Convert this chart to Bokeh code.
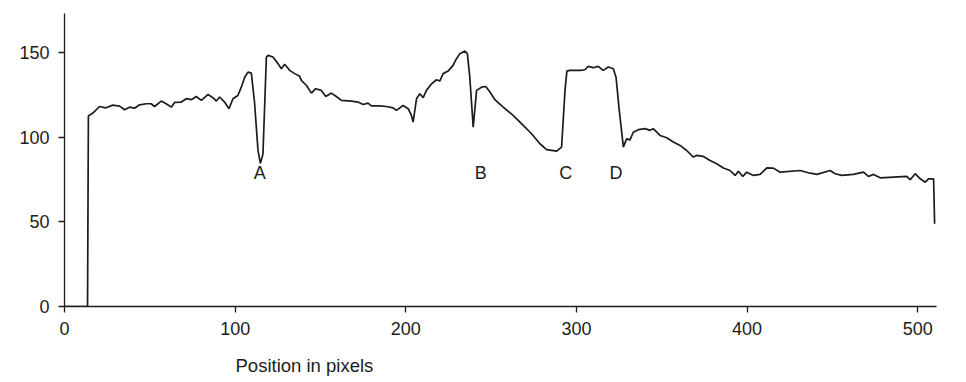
from bokeh.plotting import figure
from bokeh.models import ColumnDataSource, FixedTicker, Title, Range1d
from bokeh.core.properties import value
from bokeh.embed import file_html
from bokeh.resources import INLINE

position = [0, 13.5, 14.0, 16.6, 20.5, 24.4, 28.3, 32.3, 35.2, 38.1, 41.1, 44.0, 47.9, 50.8,
            52.8, 56.7, 59.6, 62.6, 64.5, 68.4, 71.4, 74.3, 77.2, 80.2, 84.1, 87.0, 89.0,
            90.9, 93.8, 96.4, 98.7, 101.6, 103.6, 105.6, 107.5, 109.5, 111.4, 113.4, 114.8,
            116.3, 118.3, 119.3, 122.2, 125.1, 127.1, 129.0, 132.0, 134.9, 137.8, 138.8,
            141.8, 144.7, 147.2, 150.5, 153.1, 156.4, 159.3, 162.3, 168.2, 172.0, 175.0,
            177.9, 179.8, 184.8, 188.7, 192.6, 194.5, 198.4, 201.4, 203.3, 204.3, 206.3,
            208.2, 210.2, 212.1, 215.1, 218.0, 219.9, 221.9, 224.8, 227.7, 229.7, 231.7,
            234.6, 236.1, 237.5, 239.5, 241.5, 244.4, 246.9, 249.3, 252.2, 257.1, 262.9,
            268.8, 273.7, 278.6, 282.5, 288.4, 291.3, 293.3, 294.4, 296.2, 302.1, 305.0,
            306.9, 309.9, 312.8, 315.7, 318.7, 321.6, 323.2, 325.1, 327.5, 329.4, 331.4,
            333.3, 336.3, 340.2, 343.1, 345.0, 349.0, 352.9, 356.8, 360.7, 364.6, 368.5,
            370.4, 374.4, 378.3, 382.2, 386.1, 390.0, 393.0, 394.9, 397.5, 399.8, 403.7,
            407.6, 411.6, 415.4, 419.4, 431.1, 437.0, 440.9, 448.7, 451.6, 455.5, 462.3,
            468.2, 471.1, 474.1, 478.0, 485.8, 493.6, 495.6, 498.5, 501.5, 504.4, 506.3,
            509.3, 509.9]
intensity = [0, 0, 112.5, 114.2, 118.1, 117.3, 118.9, 118.3, 116.2, 117.7, 117.1, 119.1, 119.7,
             119.7, 118.1, 121.3, 119.7, 117.7, 120.5, 120.7, 122.7, 122.1, 124.0, 121.7,
             125.2, 123.3, 121.3, 123.7, 120.7, 116.8, 122.7, 124.6, 129.5, 135.4, 138.4,
             137.8, 120.0, 92.0, 84.5, 90.0, 147.3, 148.3, 147.3, 143.4, 140.4, 143.0, 139.4,
             137.5, 135.9, 133.5, 130.5, 126.0, 128.6, 127.6, 124.0, 126.0, 124.0, 121.7,
             121.3, 120.7, 119.3, 120.1, 118.5, 118.5, 118.1, 117.3, 115.8, 118.7, 116.8,
             112.8, 108.9, 122.7, 125.6, 123.3, 127.6, 131.5, 133.9, 133.1, 137.5, 139.0,
             142.4, 146.3, 149.3, 150.8, 149.3, 135.4, 105.9, 127.6, 129.5, 129.9, 126.6,
             122.1, 117.7, 112.8, 106.9, 102.0, 96.1, 92.6, 91.7, 94.1, 127.6, 139.0, 139.4,
             139.4, 139.8, 141.8, 141.0, 141.8, 139.4, 141.4, 140.4, 135.4, 115.8, 94.1,
             99.0, 98.4, 102.9, 104.4, 105.0, 104.0, 105.0, 101.0, 99.6, 97.1, 95.1, 92.1,
             88.2, 89.2, 88.6, 86.2, 84.3, 81.8, 80.3, 77.4, 79.9, 76.8, 79.3, 77.4, 78.0,
             81.9, 81.7, 79.3, 80.3, 78.7, 78.0, 80.3, 78.4, 77.4, 78.0, 79.3, 76.8, 78.0,
             76.0, 76.4, 76.8, 74.8, 78.4, 75.4, 73.4, 75.4, 75.4, 48.8]

marker_text = ["A", "B", "C", "D"]
marker_x = [114.4, 244.0, 293.8, 323.2]
marker_y = [78.6, 78.6, 78.6, 78.6]

x_ticks = [0, 100, 200, 300, 400, 500]
y_ticks = [0, 50, 100, 150]
x_label = "Position in pixels"

FONT = "Liberation Sans"
INK = "#1c1c1c"

p = figure(frame_width=872, frame_height=293, output_backend="svg", toolbar_location=None,
           x_range=Range1d(0, 511), y_range=Range1d(0, 173),
           min_border_left=64, min_border_right=22, min_border_top=13, min_border_bottom=0)
p.outline_line_color = None
p.grid.visible = False
p.background_fill_color = "white"
p.border_fill_color = "white"

p.line(position, intensity, line_color=INK, line_width=1.7)

src = ColumnDataSource(dict(x=marker_x, y=marker_y, t=marker_text))
p.text(x="x", y="y", text="t", source=src, text_font=value(FONT), text_font_size="18px",
       text_align="center", text_baseline="middle", text_color=INK)

for ax, ticks in ((p.xaxis[0], x_ticks), (p.yaxis[0], y_ticks)):
    ax.ticker = FixedTicker(ticks=ticks)
    ax.minor_tick_line_color = None
    ax.major_tick_in = 0
    ax.major_tick_out = 6
    ax.axis_line_color = INK
    ax.axis_line_width = 1.3
    ax.major_tick_line_color = INK
    ax.major_tick_line_width = 1.3
    ax.major_label_text_font = FONT
    ax.major_label_text_font_size = "18px"
    ax.major_label_text_color = INK
p.xaxis.major_label_standoff = 9
p.yaxis.major_label_standoff = 9

p.add_layout(Title(text=x_label, align="left", offset=171, text_font=FONT,
                   text_font_size="18.5px", text_font_style="normal", text_color=INK,
                   standoff=30), "below")

open("out.html", "w").write(file_html(p, INLINE))
